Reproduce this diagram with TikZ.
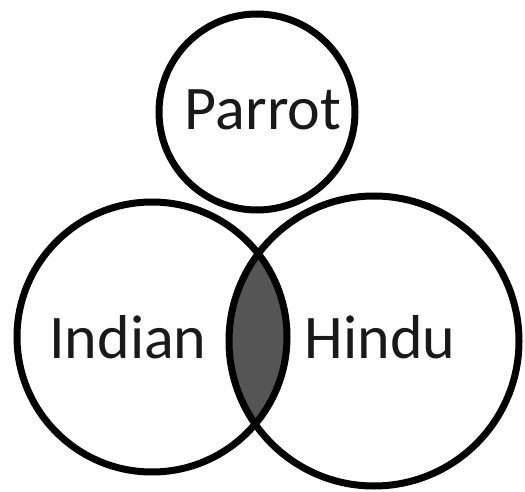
\documentclass[tikz,border=0pt]{standalone}
\usepackage{fontspec}
\setmainfont{Carlito}
\usepackage{xcolor}
\definecolor{lensgray}{RGB}{85,85,85}

\begin{document}
\begin{tikzpicture}[x=1pt,y=-1pt,
  setcircle/.style={draw=black, line width=7pt, circle, inner sep=0pt},
  setlabel/.style={font=\fontsize{62}{62}\selectfont, text=black!90, inner sep=0pt, anchor=base}]
  \fill[white] (0,0) rectangle (525,492);
  \useasboundingbox (0,0) rectangle (525,492);
  % the three sets
  \coordinate (pc) at (257,112);
  \coordinate (ic) at (152,337);
  \coordinate (hc) at (374,341);
  % shaded overlap of Indian and Hindu
  \begin{scope}
    \clip (ic) circle (135pt);
    \fill[lensgray] (hc) circle (145pt);
  \end{scope}
  \node[setcircle, minimum size=196pt] (parrot) at (pc) {};
  \node[setcircle, minimum size=270pt] (indian) at (ic) {};
  \node[setcircle, minimum size=290pt] (hindu) at (hc) {};
  % names
  \node[setlabel] (parrotname) at (263,130) {Parrot};
  \node[setlabel] (indianname) at (128,358) {Indian};
  \node[setlabel] (hinduname) at (380,358) {Hindu};
\end{tikzpicture}
\end{document}
